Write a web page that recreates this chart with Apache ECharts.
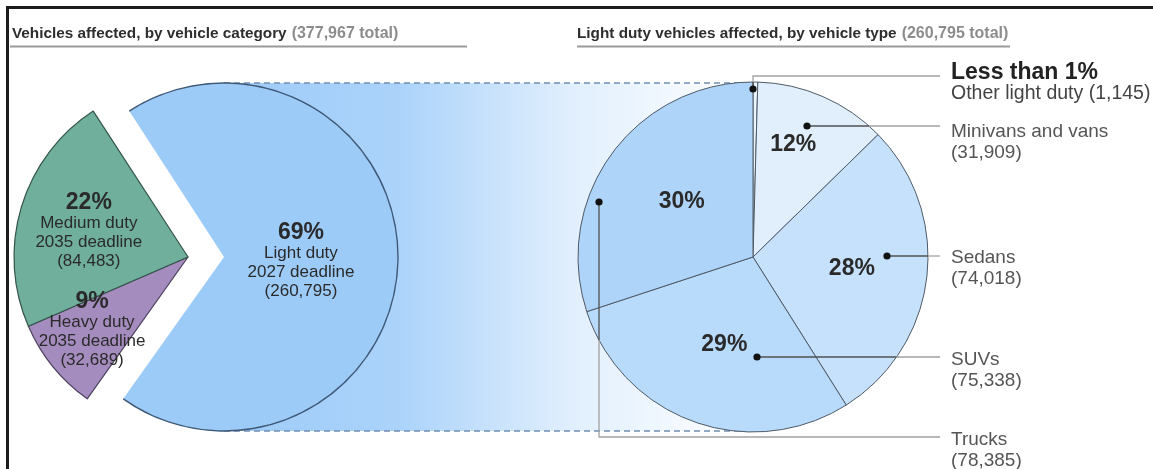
<!DOCTYPE html>
<html>
<head>
<meta charset="utf-8">
<script src="https://cdn.jsdelivr.net/npm/echarts@6/dist/echarts.min.js"></script>
<style>
  html, body { margin: 0; padding: 0; background: #fff; }
  #chart { width: 1153px; height: 469px; }
</style>
</head>
<body>
<div id="chart"></div>
<script>
// Vehicles affected, by vehicle category
const categoryNames = ['Light duty', 'Heavy duty', 'Medium duty'];
const categoryDeadlines = ['2027 deadline', '2035 deadline', '2035 deadline'];
const categoryValues = [260795, 32689, 84483];

// Light duty vehicles affected, by vehicle type
const typeNames = ['Other light duty', 'Minivans and vans', 'Sedans', 'SUVs', 'Trucks'];
const typeValues = [1145, 31909, 74018, 75338, 78385];

// ---- layout & style ----
const FONT = "'Liberation Sans', Arial, Helvetica, sans-serif";
const LEFT = { cx: 224, cy: 257, r: 174, startAngle: 123 };
const EXPLODE = 36;                       // smaller categories pulled out to the left
const RIGHT = { cx: 753, cy: 257, r: 175, startAngle: 90 };
const CALLOUT_END = 940;
const CALLOUT_TEXT_X = 951;

const categoryColors = ['#9dcbf8', '#a48dbe', '#70af9c'];
const categoryBorders = ['#3f5a78', '#4a3f5c', '#34554a'];
const categoryLabelOffsets = [[-13, 2], [-26, 16], [-13, 0]];

const typeColors = ['#eaf4fe', '#e1effd', '#c6e1fc', '#b8dafb', '#aed4fa'];
const typeLabelOffsets = [[0, 0], [4, -29], [9, 1], [2, 3], [2, -2]];

// callout anchors on the right pie: marker dot, optional elbow height, top of the text block
const callouts = [
  { dot: [753, 89], elbowY: 76, textTop: 61 },
  { dot: [807, 126], textTop: 121 },
  { dot: [887, 256], textTop: 247 },
  { dot: [757, 357], textTop: 349 },
  { dot: [599, 202], elbowY: 437, textTop: 429 }
];

const fmt = n => n.toLocaleString('en-US');
const sum = a => a.reduce((s, v) => s + v, 0);

const chart = echarts.init(document.getElementById('chart'), null, { renderer: 'canvas' });

const HIDDEN = { color: 'rgba(0,0,0,0)', borderWidth: 0 };

const categoryRich = {
  pct: { fontFamily: FONT, fontSize: 23, fontWeight: 'bold', color: '#2a2a2a', lineHeight: 23, align: 'center' },
  txt: { fontFamily: FONT, fontSize: 17, color: '#2a2a2a', lineHeight: 19, align: 'center' }
};
const categoryFormatter = p =>
  `{pct|${Math.round(p.percent)}%}\n{txt|${p.name}}\n{txt|${categoryDeadlines[p.dataIndex]}}\n{txt|(${fmt(p.value)})}`;

// one pie per placement: the main slice stays at the centre, the rest is shifted left
function categoryPie(center, showIndex) {
  return {
    type: 'pie',
    silent: true,
    animation: false,
    center: center,
    radius: [0, LEFT.r],
    startAngle: LEFT.startAngle,
    clockwise: true,
    avoidLabelOverlap: false,
    labelLine: { show: false },
    label: { position: 'inside', formatter: categoryFormatter, rich: categoryRich },
    data: categoryNames.map((name, i) => ({
      name: name,
      value: categoryValues[i],
      itemStyle: showIndex(i)
        ? { color: categoryColors[i], borderColor: i === 0 ? categoryColors[i] : categoryBorders[i], borderWidth: i === 0 ? 0 : 1.2 }
        : HIDDEN,
      label: { show: showIndex(i), offset: categoryLabelOffsets[i] }
    }))
  };
}

// thin ring tracing the rim of the light duty slice
const lightRim = {
  type: 'pie',
  silent: true,
  animation: false,
  center: [LEFT.cx, LEFT.cy],
  radius: [LEFT.r - 0.7, LEFT.r + 0.7],
  startAngle: LEFT.startAngle,
  clockwise: true,
  label: { show: false },
  labelLine: { show: false },
  data: categoryNames.map((name, i) => ({
    name: name,
    value: categoryValues[i],
    itemStyle: i === 0 ? { color: categoryBorders[0], borderWidth: 0 } : HIDDEN
  }))
};

const typePie = {
  type: 'pie',
  silent: true,
  animation: false,
  center: [RIGHT.cx, RIGHT.cy],
  radius: [0, RIGHT.r],
  startAngle: RIGHT.startAngle,
  clockwise: true,
  avoidLabelOverlap: false,
  labelLine: { show: false },
  itemStyle: { borderColor: '#4f5a66', borderWidth: 1 },
  label: {
    position: 'inside',
    formatter: p => `${Math.round(p.percent)}%`,
    fontFamily: FONT, fontSize: 23, fontWeight: 'bold', color: '#2a2a2a'
  },
  data: typeNames.map((name, i) => ({
    name: name,
    value: typeValues[i],
    itemStyle: { color: typeColors[i] },
    label: { show: Math.round(typeValues[i] / sum(typeValues) * 100) >= 1, offset: typeLabelOffsets[i] }
  }))
};

// name/value callout texts for each vehicle type
const typeCallouts = {
  type: 'pie',
  silent: true,
  animation: false,
  center: [RIGHT.cx, RIGHT.cy],
  radius: [0, RIGHT.r],
  startAngle: RIGHT.startAngle,
  clockwise: true,
  avoidLabelOverlap: false,
  labelLine: { show: false },
  itemStyle: HIDDEN,
  label: {
    position: 'inside',
    formatter: p => p.percent < 1
      ? `{head|Less than 1%}\n{sub|${p.name} (${fmt(p.value)})}`
      : `{name|${p.name}}\n{name|(${fmt(p.value)})}`,
    rich: {
      head: { fontFamily: FONT, fontSize: 23, fontWeight: 'bold', color: '#222', lineHeight: 23, align: 'left' },
      sub: { fontFamily: FONT, fontSize: 19.5, color: '#444', lineHeight: 20, align: 'left' },
      name: { fontFamily: FONT, fontSize: 19, color: '#555', lineHeight: 21, align: 'left' }
    }
  },
  labelLayout: p => ({
    x: CALLOUT_TEXT_X,
    y: callouts[p.dataIndex].textTop,
    align: 'left',
    verticalAlign: 'top'
  }),
  data: typeNames.map((name, i) => ({ name: name, value: typeValues[i] }))
};

// split a callout path where it leaves the right pie
function splitAtCircle(pts, c) {
  const inside = [pts[0]], outside = [];
  let crossed = false;
  for (let k = 1; k < pts.length; k++) {
    const a = pts[k - 1], b = pts[k];
    if (crossed) { outside.push(b); continue; }
    if (Math.hypot(b[0] - c.cx, b[1] - c.cy) <= c.r) { inside.push(b); continue; }
    const dx = b[0] - a[0], dy = b[1] - a[1], fx = a[0] - c.cx, fy = a[1] - c.cy;
    const A = dx * dx + dy * dy, B = 2 * (fx * dx + fy * dy), C = fx * fx + fy * fy - c.r * c.r;
    const t = (-B + Math.sqrt(B * B - 4 * A * C)) / (2 * A);
    const p = [a[0] + t * dx, a[1] + t * dy];
    inside.push(p);
    outside.push(p, b);
    crossed = true;
  }
  return { inside, outside };
}

const calloutGraphics = [];
callouts.forEach(c => {
  const pts = [c.dot];
  const y = c.elbowY != null ? c.elbowY : c.dot[1];
  if (c.elbowY != null) pts.push([c.dot[0], c.elbowY]);
  pts.push([CALLOUT_END, y]);
  const parts = splitAtCircle(pts, RIGHT);
  calloutGraphics.push({
    type: 'polyline', z: 10, silent: true,
    shape: { points: parts.inside },
    style: { stroke: '#505050', lineWidth: 1.3, fill: null }
  });
  if (parts.outside.length > 1) {
    calloutGraphics.push({
      type: 'polyline', z: 10, silent: true,
      shape: { points: parts.outside },
      style: { stroke: '#a2a2a2', lineWidth: 1.3, fill: null }
    });
  }
  calloutGraphics.push({
    type: 'circle', z: 11, silent: true,
    shape: { cx: c.dot[0], cy: c.dot[1], r: 3.6 },
    style: { fill: '#111' }
  });
});

const bandTop = LEFT.cy - LEFT.r, bandBottom = LEFT.cy + LEFT.r;

const titleRich = {
  b: { fontFamily: FONT, fontSize: 15.3, fontWeight: 'bold', color: '#2e2e2e' },
  g: { fontFamily: FONT, fontSize: 16, color: '#8c8c8c' }
};

chart.setOption({
  animation: false,
  textStyle: { fontFamily: FONT },
  title: [
    {
      left: 12, top: 25, padding: 0,
      text: `{b|Vehicles affected, by vehicle category} {g|(${fmt(sum(categoryValues))} total)}`,
      textStyle: { rich: titleRich }
    },
    {
      left: 577, top: 25, padding: 0,
      text: `{b|Light duty vehicles affected, by vehicle type} {g|(${fmt(sum(typeValues))} total)}`,
      textStyle: { rich: titleRich }
    }
  ],
  graphic: [
    // outer frame (top and left edges)
    { type: 'line', z: 20, silent: true, shape: { x1: 6, y1: 7.5, x2: 1153, y2: 7.5 }, style: { stroke: '#1c1c1c', lineWidth: 3 } },
    { type: 'line', z: 20, silent: true, shape: { x1: 7.5, y1: 6, x2: 7.5, y2: 469 }, style: { stroke: '#1c1c1c', lineWidth: 3 } },
    // title rules
    { type: 'line', z: 5, silent: true, shape: { x1: 10, y1: 46.5, x2: 467, y2: 46.5 }, style: { stroke: '#9a9a9a', lineWidth: 2 } },
    { type: 'line', z: 5, silent: true, shape: { x1: 577, y1: 46.5, x2: 1010, y2: 46.5 }, style: { stroke: '#9a9a9a', lineWidth: 2 } },
    // band linking the light duty slice to its breakdown
    {
      type: 'rect', z: 0, silent: true,
      shape: { x: LEFT.cx, y: bandTop, width: RIGHT.cx - LEFT.cx, height: bandBottom - bandTop },
      style: {
        fill: {
          type: 'linear', x: 0, y: 0, x2: 1, y2: 0,
          colorStops: [
            { offset: 0, color: '#9dcbf8' },
            { offset: 0.33, color: '#abd3fa' },
            { offset: 0.66, color: '#e1effd' },
            { offset: 1, color: '#ffffff' }
          ]
        }
      }
    },
    { type: 'line', z: 1, silent: true, shape: { x1: LEFT.cx, y1: bandTop, x2: RIGHT.cx, y2: bandTop }, style: { stroke: '#6f8fb3', lineWidth: 1.4, lineDash: [6, 4] } },
    { type: 'line', z: 1, silent: true, shape: { x1: LEFT.cx, y1: bandBottom, x2: RIGHT.cx, y2: bandBottom }, style: { stroke: '#6f8fb3', lineWidth: 1.4, lineDash: [6, 4] } },
    ...calloutGraphics
  ],
  series: [
    categoryPie([LEFT.cx, LEFT.cy], i => i === 0),
    lightRim,
    categoryPie([LEFT.cx - EXPLODE, LEFT.cy], i => i !== 0),
    typePie,
    typeCallouts
  ]
});
</script>
</body>
</html>
